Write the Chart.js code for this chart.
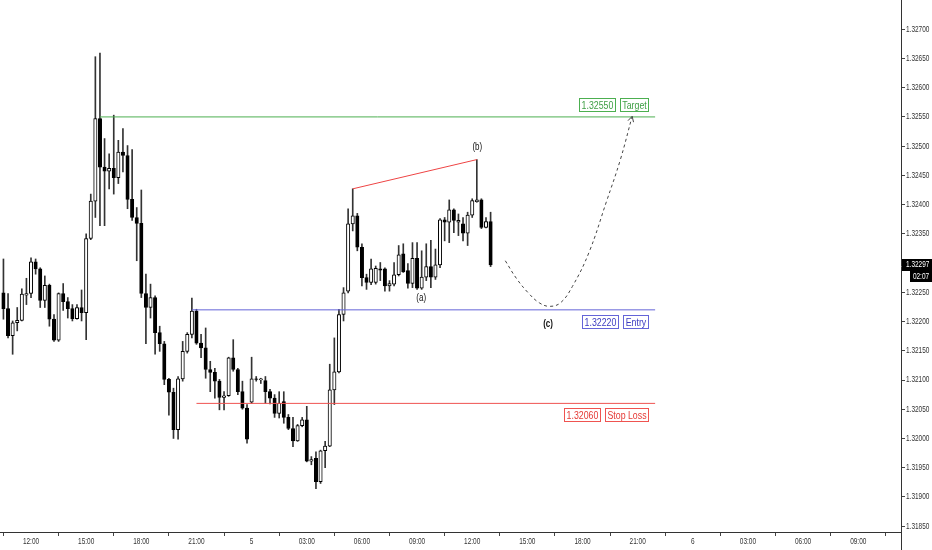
<!DOCTYPE html>
<html>
<head>
<meta charset="utf-8">
<script src="https://cdn.jsdelivr.net/npm/chart.js@4.4.0/dist/chart.umd.min.js"></script>
<style>
html, body { margin: 0; padding: 0; background: #fff; }
#wrap { width: 932px; height: 550px; }
</style>
</head>
<body>
<div id="wrap"><canvas id="myChart" width="932" height="550"></canvas></div>
<script>
// 15 min candles, index 0 = 10:30
const opens = [1.32249, 1.32222, 1.32176, 1.32198, 1.32202, 1.32245, 1.32248, 1.32302, 1.32290, 1.32236,
    1.32262, 1.32204, 1.32168, 1.32248, 1.32234, 1.32222, 1.32205, 1.32224, 1.32215, 1.32342,
    1.32406, 1.32547, 1.32464, 1.32457, 1.32462, 1.32446, 1.32490, 1.32484, 1.32409, 1.32378,
    1.32368, 1.32248, 1.32224, 1.32241, 1.32181, 1.32162, 1.32101, 1.32079, 1.32015, 1.32102,
    1.32149, 1.32178, 1.32218, 1.32163, 1.32155, 1.32118, 1.32113, 1.32098, 1.32070, 1.32073,
    1.32138, 1.32118, 1.32080, 1.32052, 1.32062, 1.32102, 1.32100, 1.32099, 1.32080, 1.32069,
    1.32043, 1.32063, 1.32036, 1.32017, 1.31996, 1.32022, 1.32032, 1.31961, 1.31966, 1.31926,
    1.31979, 1.31987, 1.32083, 1.32114, 1.32212, 1.32252, 1.32367, 1.32381, 1.32327, 1.32275,
    1.32267, 1.32267, 1.32290, 1.32290, 1.32261, 1.32264, 1.32280, 1.32316, 1.32287, 1.32265,
    1.32308, 1.32257, 1.32276, 1.32294, 1.32276, 1.32297, 1.32374, 1.32370, 1.32391, 1.32370,
    1.32367, 1.32351, 1.32382, 1.32405, 1.32408, 1.32361, 1.32371];
const highs = [1.32307, 1.32248, 1.32201, 1.32224, 1.32256, 1.32274, 1.32309, 1.32307, 1.32292, 1.32278,
    1.32264, 1.32212, 1.32249, 1.32265, 1.32241, 1.32229, 1.32229, 1.32254, 1.32350, 1.32418,
    1.32653, 1.32659, 1.32513, 1.32487, 1.32553, 1.32510, 1.32530, 1.32501, 1.32494, 1.32395,
    1.32425, 1.32281, 1.32264, 1.32244, 1.32192, 1.32166, 1.32103, 1.32086, 1.32106, 1.32166,
    1.32181, 1.32240, 1.32221, 1.32178, 1.32189, 1.32132, 1.32120, 1.32101, 1.32080, 1.32139,
    1.32169, 1.32120, 1.32098, 1.32058, 1.32139, 1.32106, 1.32103, 1.32106, 1.32084, 1.32075,
    1.32080, 1.32080, 1.32041, 1.32036, 1.32024, 1.32036, 1.32055, 1.31969, 1.31977, 1.31980,
    1.31995, 1.32127, 1.32172, 1.32221, 1.32258, 1.32393, 1.32427, 1.32385, 1.32333, 1.32281,
    1.32307, 1.32295, 1.32301, 1.32292, 1.32270, 1.32301, 1.32330, 1.32333, 1.32299, 1.32335,
    1.32335, 1.32321, 1.32333, 1.32339, 1.32324, 1.32376, 1.32378, 1.32408, 1.32393, 1.32384,
    1.32378, 1.32387, 1.32410, 1.32477, 1.32410, 1.32378, 1.32387];
const lows = [1.32204, 1.32172, 1.32144, 1.32184, 1.32201, 1.32229, 1.32241, 1.32281, 1.32224, 1.32224,
    1.32192, 1.32166, 1.32166, 1.32219, 1.32206, 1.32201, 1.32204, 1.32201, 1.32169, 1.32340,
    1.32378, 1.32364, 1.32364, 1.32427, 1.32418, 1.32436, 1.32456, 1.32393, 1.32373, 1.32304,
    1.32241, 1.32162, 1.32206, 1.32144, 1.32149, 1.32092, 1.32040, 1.32000, 1.31999, 1.32098,
    1.32146, 1.32172, 1.32161, 1.32138, 1.32103, 1.32080, 1.32069, 1.32049, 1.32049, 1.32072,
    1.32115, 1.32075, 1.32050, 1.31992, 1.32060, 1.32098, 1.32094, 1.32060, 1.32059, 1.32036,
    1.32035, 1.32026, 1.32015, 1.31986, 1.31995, 1.32020, 1.31960, 1.31955, 1.31914, 1.31923,
    1.31950, 1.31986, 1.32058, 1.32112, 1.32201, 1.32249, 1.32355, 1.32321, 1.32261, 1.32255,
    1.32263, 1.32264, 1.32270, 1.32252, 1.32252, 1.32261, 1.32278, 1.32284, 1.32257, 1.32258,
    1.32255, 1.32255, 1.32270, 1.32258, 1.32272, 1.32292, 1.32338, 1.32335, 1.32352, 1.32347,
    1.32338, 1.32330, 1.32378, 1.32404, 1.32359, 1.32360, 1.32294];
const closes = [1.32222, 1.32176, 1.32198, 1.32202, 1.32247, 1.32248, 1.32302, 1.32290, 1.32236, 1.32262,
    1.32204, 1.32168, 1.32248, 1.32234, 1.32222, 1.32205, 1.32224, 1.32215, 1.32342, 1.32406,
    1.32547, 1.32464, 1.32457, 1.32462, 1.32446, 1.32490, 1.32484, 1.32409, 1.32378, 1.32368,
    1.32248, 1.32224, 1.32241, 1.32181, 1.32162, 1.32101, 1.32079, 1.32015, 1.32102, 1.32149,
    1.32178, 1.32218, 1.32163, 1.32155, 1.32118, 1.32113, 1.32098, 1.32070, 1.32073, 1.32138,
    1.32118, 1.32080, 1.32052, 1.31999, 1.32102, 1.32101, 1.32102, 1.32080, 1.32069, 1.32043,
    1.32060, 1.32036, 1.32017, 1.31996, 1.32022, 1.32032, 1.31961, 1.31964, 1.31926, 1.31979,
    1.31987, 1.32083, 1.32114, 1.32212, 1.32249, 1.32367, 1.32381, 1.32327, 1.32275, 1.32267,
    1.32290, 1.32291, 1.32288, 1.32261, 1.32265, 1.32280, 1.32314, 1.32285, 1.32265, 1.32308,
    1.32257, 1.32276, 1.32294, 1.32276, 1.32297, 1.32374, 1.32370, 1.32391, 1.32373, 1.32373,
    1.32351, 1.32382, 1.32407, 1.32408, 1.32361, 1.32371, 1.32297];

const timeLabels = ['12:00', '15:00', '18:00', '21:00', '5', '03:00', '06:00', '09:00',
    '12:00', '15:00', '18:00', '21:00', '6', '03:00', '06:00', '09:00'];
const firstLabelIndex = 6;
const candlesPerLabel = 12;
const priceTicks = [1.3185, 1.319, 1.3195, 1.32, 1.3205, 1.321, 1.3215, 1.322, 1.3225,
    1.323, 1.3235, 1.324, 1.3245, 1.325, 1.3255, 1.326, 1.3265, 1.327];

// trade levels
const levelNames = ['Target', 'Entry', 'Stop Loss'];
const levelPrices = [1.3255, 1.3222, 1.3206];
const levelFrom = [21, 41, 42];
const levelTo = 141.8;

// (a)-(b) wedge line and projected path
const wedgeX = [76, 103];
const wedgeY = [1.32427, 1.32477];
const pathX = [109.2, 111.6, 114.2, 116.6, 118.8, 121.2, 123.8, 127.4, 131.2, 134.2, 136.8];
const pathY = [1.32304, 1.32274, 1.32249, 1.32232, 1.32226, 1.32232, 1.32260, 1.32318, 1.32405, 1.32476, 1.32551];

const lastClose = closes[closes.length - 1];
const lineColors = ['#4caf50', '#6464d8', '#ef5350'];
const textColors = ['#3e9e44', '#3c3cc0', '#e53935'];
const FONT = '"Liberation Sans", Arial, sans-serif';

function narrow(ctx, txt, x, y, align, sx) {
    ctx.save();
    ctx.translate(x, y);
    ctx.scale(sx, 1);
    ctx.textAlign = align;
    ctx.fillText(txt, 0, 0);
    ctx.restore();
}

const annotate = {
    id: 'annotate',
    afterDraw(chart) {
        const { ctx, chartArea: area } = chart;
        const x = chart.scales.x, y = chart.scales.y;
        ctx.save();
        ctx.strokeStyle = '#333';
        ctx.lineWidth = 1;
        ctx.beginPath();
        ctx.moveTo(area.right + 0.5, area.bottom);
        ctx.lineTo(area.right + 0.5, chart.height);
        ctx.stroke();

        // axis labels
        ctx.fillStyle = '#333';
        ctx.font = '9px ' + FONT;
        ctx.textBaseline = 'middle';
        const lastY = y.getPixelForValue(lastClose);
        priceTicks.forEach(v => {
            const py = y.getPixelForValue(v);
            if (Math.abs(py - lastY) < 9) return;
            narrow(ctx, v.toFixed(5), area.right + 5, py, 'left', 0.72);
        });
        timeLabels.forEach((t, k) => {
            narrow(ctx, t, x.getPixelForValue(firstLabelIndex + k * candlesPerLabel), area.bottom + 10, 'center', 0.72);
        });

        // last price
        ctx.fillStyle = '#000';
        ctx.fillRect(area.right + 1, Math.round(lastY) - 6, 31, 12);
        ctx.fillRect(area.right + 9, Math.round(lastY) + 6, 23, 11);
        ctx.fillStyle = '#fff';
        narrow(ctx, lastClose.toFixed(5), area.right + 5, Math.round(lastY), 'left', 0.72);
        narrow(ctx, '02:07', area.right + 20, Math.round(lastY) + 12, 'center', 0.72);

        // level tags
        ctx.font = '11px ' + FONT;
        levelPrices.forEach((p, k) => {
            const ly = Math.round(y.getPixelForValue(p)) + (k === 0 ? -12 : 12);
            let right = Math.round(x.getPixelForValue(140.5));
            [levelNames[k], p.toFixed(5)].forEach(txt => {
                const w = Math.round(ctx.measureText(txt).width * 0.8 + 5);
                ctx.fillStyle = '#fff';
                ctx.fillRect(right - w, ly - 7, w, 14);
                ctx.strokeStyle = lineColors[k];
                ctx.strokeRect(right - w + 0.5, ly - 6.5, w - 1, 13);
                ctx.fillStyle = textColors[k];
                narrow(ctx, txt, right - w / 2, ly + 0.5, 'center', 0.8);
                right -= w + 4;
            });
        });

        // wave labels
        ctx.fillStyle = '#111';
        [['(a)', 90.9, 1.3224, ''], ['(b)', 103.1, 1.32498, ''], ['(c)', 118.5, 1.32196, 'bold ']].forEach(n => {
            ctx.font = n[3] + '10px ' + FONT;
            narrow(ctx, n[0], x.getPixelForValue(n[1]), y.getPixelForValue(n[2]), 'center', 0.8);
        });

        // arrow head on projected path
        const m = pathX.length;
        const tx = x.getPixelForValue(pathX[m - 1]), ty = y.getPixelForValue(pathY[m - 1]);
        const bx = x.getPixelForValue(pathX[m - 2]), by = y.getPixelForValue(pathY[m - 2]);
        const ang = Math.atan2(ty - by, tx - bx);
        ctx.strokeStyle = '#444';
        ctx.beginPath();
        ctx.moveTo(tx - 6 * Math.cos(ang - 0.5), ty - 6 * Math.sin(ang - 0.5));
        ctx.lineTo(tx, ty);
        ctx.lineTo(tx - 6 * Math.cos(ang + 0.5), ty - 6 * Math.sin(ang + 0.5));
        ctx.stroke();
        ctx.restore();
    }
};

const levelLine = k => ({
    type: 'line',
    data: [{ x: levelFrom[k], y: levelPrices[k] }, { x: levelTo, y: levelPrices[k] }],
    borderColor: lineColors[k],
    borderWidth: 1,
    pointRadius: 0,
    order: 0
});

new Chart(document.getElementById('myChart').getContext('2d'), {
    type: 'bar',
    data: {
        datasets: [{
                label: 'body',
                data: opens.map((o, i) => ({ x: i, y: [o, closes[i]] })),
                backgroundColor: c => closes[c.dataIndex] >= opens[c.dataIndex] ? '#ffffff' : '#000000',
                borderColor: '#000',
                borderWidth: 1,
                borderSkipped: false,
                barThickness: 3.4,
                grouped: false,
                order: 1
            },
            {
                label: 'wick',
                data: highs.map((h, i) => ({ x: i, y: [lows[i], h] })),
                backgroundColor: '#333',
                borderWidth: 0,
                barThickness: 1,
                grouped: false,
                order: 2
            },
            levelLine(0),
            levelLine(1),
            levelLine(2),
            {
                type: 'line',
                data: wedgeX.map((v, i) => ({ x: v, y: wedgeY[i] })),
                borderColor: '#ee4444',
                borderWidth: 1,
                pointRadius: 0,
                order: 0
            },
            {
                type: 'line',
                data: pathX.map((v, i) => ({ x: v, y: pathY[i] })),
                borderColor: '#444',
                borderWidth: 1,
                borderDash: [3, 3],
                pointRadius: 0,
                tension: 0.4,
                order: 0
            }
        ]
    },
    options: {
        responsive: false,
        animation: false,
        layout: { padding: 0 },
        plugins: { legend: { display: false }, tooltip: { enabled: false } },
        scales: {
            x: {
                type: 'linear',
                min: -0.75,
                max: 195.3,
                offset: false,
                grid: { drawOnChartArea: false, drawTicks: true, tickLength: 4, color: '#444' },
                border: { display: true, color: '#333' },
                ticks: { display: false },
                afterBuildTicks: s => { s.ticks = timeLabels.map((t, k) => ({ value: firstLabelIndex + k * candlesPerLabel })); },
                afterFit: s => { s.height = 18; }
            },
            y: {
                position: 'right',
                min: 1.3184,
                max: 1.3275,
                grid: { drawOnChartArea: false, drawTicks: true, tickLength: 4, color: '#444' },
                border: { display: true, color: '#333' },
                ticks: { display: false },
                afterBuildTicks: s => { s.ticks = priceTicks.map(v => ({ value: v })); },
                afterFit: s => { s.width = 31; }
            }
        }
    },
    plugins: [annotate]
});
</script>
</body>
</html>
